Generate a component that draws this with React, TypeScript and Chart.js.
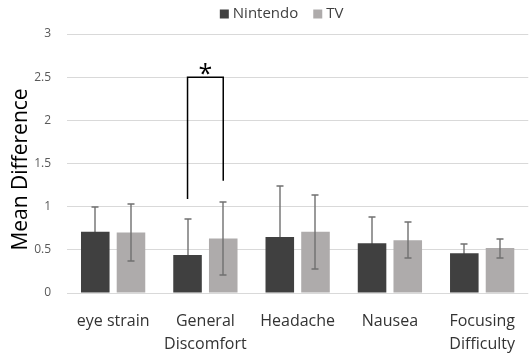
import React, { useEffect, useRef } from "react";
import { Chart, registerables } from "chart.js";

Chart.register(...registerables);

const categories: string[][] = [["eye strain"], ["General", "Discomfort"], ["Headache"], ["Nausea"], ["Focusing", "Difficulty"]];
const nintendo = [0.71, 0.44, 0.65, 0.575, 0.46];
const nintendoErr = [0.29, 0.42, 0.59, 0.31, 0.11];
const tv = [0.70, 0.63, 0.71, 0.61, 0.52];
const tvErr = [0.33, 0.42, 0.43, 0.21, 0.11];
const yTicks = [0, 0.5, 1, 1.5, 2, 2.5, 3];
const sigCategory = 1;
const bracketTop = 2.5;
const bracketLeftBottom = 1.09;
const bracketRightBottom = 1.3;
const seriesNames = ["Nintendo", "TV"];
const seriesColors = ["#404040", "#AEABAB"];
const FONT = "'Open Sans', sans-serif";

function drawErrors(chart: any, i: number) {
  const ctx = chart.ctx;
  const y = chart.scales.y;
  const errs = [nintendoErr, tvErr];
  const ds = chart.data.datasets[i];
  const meta = chart.getDatasetMeta(i);
  ctx.save();
  ctx.strokeStyle = "#707070";
  ctx.lineWidth = 1.4;
  meta.data.forEach((bar: any, j: number) => {
    const v = ds.data[j];
    const e = errs[i][j];
    const x = Math.round(bar.x);
    const hi = Math.round(y.getPixelForValue(v + e));
    const lo = Math.round(y.getPixelForValue(v - e));
    ctx.beginPath();
    ctx.moveTo(x, hi);
    ctx.lineTo(x, lo);
    ctx.moveTo(x - 3.5, hi);
    ctx.lineTo(x + 3.5, hi);
    ctx.moveTo(x - 3.5, lo);
    ctx.lineTo(x + 3.5, lo);
    ctx.stroke();
  });
  ctx.restore();
}

const errorBars = {
  id: "errorBars",
  beforeDatasetsDraw(chart: any) {
    drawErrors(chart, 0);
  },
  afterDatasetsDraw(chart: any) {
    drawErrors(chart, 1);
    const ctx = chart.ctx;
    const y = chart.scales.y;
    ctx.save();
    // significance bracket
    const x1 = chart.getDatasetMeta(0).data[sigCategory].x;
    const x2 = chart.getDatasetMeta(1).data[sigCategory].x;
    const yt = y.getPixelForValue(bracketTop);
    ctx.strokeStyle = "#000000";
    ctx.lineWidth = 1.5;
    ctx.beginPath();
    ctx.moveTo(x1, y.getPixelForValue(bracketLeftBottom));
    ctx.lineTo(x1, yt);
    ctx.lineTo(x2, yt);
    ctx.lineTo(x2, y.getPixelForValue(bracketRightBottom));
    ctx.stroke();
    ctx.fillStyle = "#000000";
    ctx.font = `25px ${FONT}`;
    ctx.textAlign = "center";
    ctx.textBaseline = "alphabetic";
    ctx.fillText("*", (x1 + x2) / 2, yt + 5);
    ctx.restore();
  },
};

const decorations = {
  id: "decorations",
  afterDraw(chart: any) {
    const ctx = chart.ctx;
    const area = chart.chartArea;
    ctx.save();
    // y title
    ctx.translate(21, (area.top + area.bottom) / 2 + 6);
    ctx.rotate(-Math.PI / 2);
    ctx.font = `21px ${FONT}`;
    ctx.fillStyle = "#000000";
    ctx.textAlign = "center";
    ctx.textBaseline = "middle";
    ctx.fillText("Mean Difference", 0, 0);
    ctx.restore();
    // legend
    ctx.save();
    ctx.font = `15px ${FONT}`;
    ctx.textBaseline = "middle";
    ctx.textAlign = "left";
    const box = 9;
    const gap = 4;
    const itemGap = 15;
    const widths = seriesNames.map((n) => box + gap + ctx.measureText(n).width);
    const total = widths.reduce((a, b) => a + b, 0) + itemGap * (seriesNames.length - 1);
    let x = (area.left + area.right) / 2 - total / 2 - 16;
    const cy = 14;
    seriesNames.forEach((n, i) => {
      ctx.fillStyle = seriesColors[i];
      ctx.fillRect(x, cy - box / 2, box, box);
      ctx.fillStyle = "#404040";
      ctx.fillText(n, x + box + gap, cy);
      x += widths[i] + itemGap;
    });
    ctx.restore();
  },
};

export default function App() {
  const ref = useRef<HTMLCanvasElement>(null);
  useEffect(() => {
    document.body.style.margin = "0";
    const chart = new Chart(ref.current!, {
      type: "bar",
      data: {
        labels: categories,
        datasets: [
          { label: seriesNames[0], data: nintendo, backgroundColor: seriesColors[0], categoryPercentage: 0.774, barPercentage: 0.8 },
          { label: seriesNames[1], data: tv, backgroundColor: seriesColors[1], categoryPercentage: 0.774, barPercentage: 0.8 },
        ],
      },
      options: {
        responsive: false,
        animation: false,
        layout: { padding: { top: 34, left: 0, right: 0, bottom: 0 } },
        plugins: { legend: { display: false }, tooltip: { enabled: false } },
        scales: {
          x: {
            grid: { display: false, drawTicks: false },
            border: { display: false },
            ticks: { color: "#333333", font: { family: FONT, size: 16, lineHeight: 1.45 }, padding: 17, maxRotation: 0, autoSkip: false },
            afterFit: (s: any) => { s.height = 63; },
          },
          y: {
            min: 0,
            max: 3,
            afterBuildTicks: (s: any) => { s.ticks = yTicks.map((v) => ({ value: v })); },
            grid: { color: "#D9D9D9", lineWidth: 1, drawTicks: false },
            border: { display: false },
            ticks: { color: "#595959", font: { family: FONT, size: 12 }, padding: 16, callback: (v: any) => String(v) },
            afterFit: (s: any) => { s.width = 67; },
          },
        },
      },
      plugins: [errorBars, decorations],
    });
    return () => chart.destroy();
  }, []);
  return <canvas ref={ref} width={532} height={356} />;
}
